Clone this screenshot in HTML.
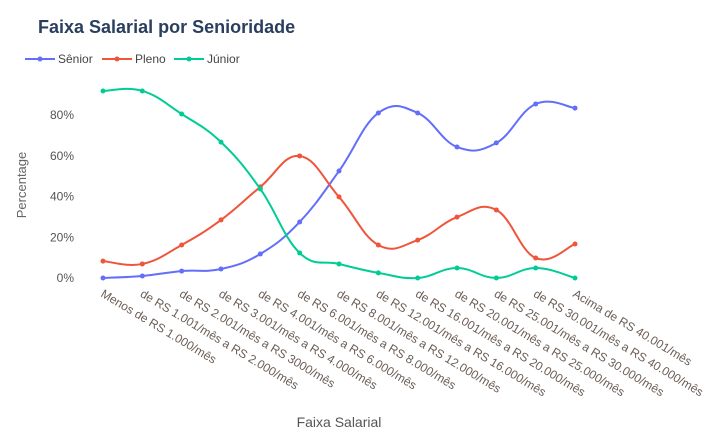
<!DOCTYPE html>
<html><head><meta charset="utf-8"><style>
body{margin:0;background:#fff;font-family:"Liberation Sans",sans-serif}
svg{display:block}
</style></head><body>
<svg id="c" width="718" height="429" font-family="Liberation Sans, sans-serif">
<text x="38" y="33" font-size="18" font-weight="bold" fill="#2a3f5f">Faixa Salarial por Senioridade</text>
<g id="grid"></g>
<g id="series"></g>
<g id="xt"></g>
<text x="339" y="427" font-size="14" fill="#555" text-anchor="middle">Faixa Salarial</text>
<text transform="translate(26,185) rotate(-90)" font-size="13" fill="#666" text-anchor="middle">Percentage</text>
<g id="legend"></g>
</svg>
<script>
const categories=["Menos de RS 1.000/mês","de RS 1.001/mês a RS 2.000/mês","de RS 2.001/mês a RS 3000/mês","de RS 3.001/mês a RS 4.000/mês","de RS 4.001/mês a RS 6.000/mês","de RS 6.001/mês a RS 8.000/mês","de RS 8.001/mês a RS 12.000/mês","de RS 12.001/mês a RS 16.000/mês","de RS 16.001/mês a RS 20.000/mês","de RS 20.001/mês a RS 25.000/mês","de RS 25.001/mês a RS 30.000/mês","de RS 30.001/mês a RS 40.000/mês","Acima de RS 40.001/mês"];
const senior=[0,1,3.4,4.4,11.8,27.5,52.5,81,81,64.3,66.3,85.4,83.4];
const pleno=[8.3,6.9,16.2,28.5,44.7,59.9,39.8,16.2,18.6,29.9,33.4,9.8,16.7];
const junior=[91.8,91.8,80.5,66.7,43.7,12.3,6.9,2.5,0,4.9,0,4.9,0];
const yTicks=[0,20,40,60,80];
const NS="http://www.w3.org/2000/svg";
const x=i=>103+i*(575-103)/12;
const y=v=>278-v*2.0375;
function mk(t,a,p){const e=document.createElementNS(NS,t);for(const k in a)e.setAttribute(k,a[k]);p.appendChild(e);return e;}
const grid=document.getElementById('grid');
yTicks.forEach(v=>{
  const t=mk('text',{x:74,y:y(v)+4,'font-size':12,fill:'#555','text-anchor':'end'},grid);
  t.textContent=v+'%';
  
  
});
const xt=document.getElementById('xt');
categories.forEach((c,i)=>{
  const t=mk('text',{transform:`translate(${x(i)-3},${296}) rotate(31)`,'font-size':12,fill:'#6b5d55'},xt);
  t.textContent=c;
  
  
});
function path(vals){
  const p=vals.map((v,i)=>[x(i),y(v)]);
  let d=`M${p[0][0]},${p[0][1]}`;const s=0.2;
  for(let i=0;i<p.length-1;i++){
    const p0=p[i-1]||p[i],p1=p[i],p2=p[i+1],p3=p[i+2]||p2;
    const c1=[p1[0]+(p2[0]-p0[0])*s,p1[1]+(p2[1]-p0[1])*s];
    const c2=[p2[0]-(p3[0]-p1[0])*s,p2[1]-(p3[1]-p1[1])*s];
    d+=` C${c1[0]},${c1[1]} ${c2[0]},${c2[1]} ${p2[0]},${p2[1]}`;
  }
  return d;
}
const ser=document.getElementById('series');
const list=[["Sênior",senior,"#636efa"],["Pleno",pleno,"#ef553b"],["Júnior",junior,"#00cc96"]];
list.forEach(([n,vals,col])=>{
  const g=mk('g',{},ser);
  
  
  mk('path',{d:path(vals),fill:'none',stroke:col,'stroke-width':2},g);
  vals.forEach((v,i)=>{
    const c=mk('circle',{cx:x(i),cy:y(v),r:2.5,fill:col},g);
    
    
  });
});
const lg=document.getElementById('legend');
const lxs=[25,102,174];
list.forEach(([n,vals,col],k)=>{
  const lx=lxs[k];
  const g=mk('g',{},lg);
  
  
  mk('line',{x1:lx,x2:lx+30,y1:59,y2:59,stroke:col,'stroke-width':2},g);
  mk('circle',{cx:lx+15,cy:59,r:2.5,fill:col},g);
  const t=mk('text',{x:lx+33,y:63,'font-size':12,fill:'#444'},g);
  t.textContent=n;
});
</script>
</body></html>
